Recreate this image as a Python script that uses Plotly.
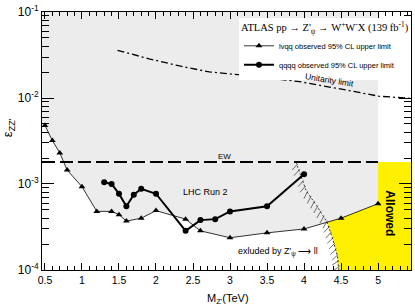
import numpy as np
import plotly.graph_objects as go

# ---------------- data ----------------
lvqq_mass = [0.5, 0.6, 0.7, 0.8, 1.0, 1.2, 1.4, 1.5, 1.6, 1.8, 2.0, 2.4, 2.6, 3.0, 3.5, 4.0, 4.5, 5.0]
lvqq_eps = [4.8e-3, 3.2e-3, 2.3e-3, 1.45e-3, 9.3e-4, 4.8e-4, 4.8e-4, 4.4e-4, 3.7e-4, 4.0e-4,
            4.9e-4, 3.9e-4, 2.85e-4, 2.37e-4, 2.7e-4, 3.0e-4, 4.0e-4, 5.9e-4]

qqqq_mass = [1.3, 1.4, 1.5, 1.6, 1.7, 1.8, 2.0, 2.4, 2.6, 2.8, 3.0, 3.5, 4.0]
qqqq_eps = [1.05e-3, 1.0e-3, 7.7e-4, 5.5e-4, 7.5e-4, 8.8e-4, 7.7e-4, 2.85e-4, 3.8e-4, 3.9e-4,
            4.8e-4, 5.5e-4, 1.3e-3]

unit_mass = [1.48, 1.92, 2.32, 2.72, 3.26, 3.94, 4.61, 5.01, 5.45]
unit_eps = [3.59e-2, 2.84e-2, 2.36e-2, 2.01e-2, 1.82e-2, 1.55e-2, 1.22e-2, 1.05e-2, 9.9e-3]

ew_level = 1.8e-3
ew_mass = [0.46, 5.0]

ll_mass = [3.89, 4.03, 4.17, 4.31, 4.38, 4.45, 4.47]
ll_eps = [1.8e-3, 8.3e-4, 5.6e-4, 3.6e-4, 2.4e-4, 1.45e-4, 1.0e-4]
ll_cross = 3  # index where the ll boundary meets the lvqq limit

x_range = [0.46, 5.445]
y_range_log = [-4.0005, -0.9995]
x_ticks = [0.5, 1, 1.5, 2, 2.5, 3, 3.5, 4, 4.5, 5]
x_ticklabels = ["0.5", "1", "1.5", "2", "2.5", "3", "3.5", "4", "4.5", "5"]
y_ticks = [1e-4, 1e-3, 1e-2, 1e-1]
y_ticklabels = ["10<sup>-4</sup>", "10<sup>-3</sup>", "10<sup>-2</sup>", "10<sup>-1</sup>"]

# ---------------- figure ----------------
W, H = 415, 308
ml, mr, mt, mb = 42, 3, 6, 38
pw, ph = W - ml - mr, H - mt - mb
px_per_x = pw / (x_range[1] - x_range[0])
px_per_dec = ph / (y_range_log[1] - y_range_log[0])

ymax = 10 ** y_range_log[1]
ymin = 10 ** y_range_log[0]

fig = go.Figure()

# grey excluded region (above lvqq limit, up to top, until 5 TeV)
gx = [x_range[0]] + lvqq_mass + [lvqq_mass[-1], x_range[0]]
gy = [lvqq_eps[0]] + lvqq_eps + [ymax, ymax]
fig.add_trace(go.Scatter(x=gx, y=gy, fill="toself", fillcolor="#ececec",
                         line=dict(width=0), mode="lines", showlegend=False, hoverinfo="skip"))

# yellow allowed region
yx = ll_mass[ll_cross:] + [x_range[1], x_range[1], lvqq_mass[-1], lvqq_mass[-1], lvqq_mass[-2], ll_mass[ll_cross]]
yy = ll_eps[ll_cross:] + [ymin, ew_level, ew_level, lvqq_eps[-1], lvqq_eps[-2], ll_eps[ll_cross]]
fig.add_trace(go.Scatter(x=yx, y=yy, fill="toself", fillcolor="#fff000",
                         line=dict(width=0), mode="lines", showlegend=False, hoverinfo="skip"))

# EW line
fig.add_trace(go.Scatter(x=ew_mass, y=[ew_level, ew_level], mode="lines",
                         line=dict(color="black", width=2, dash="13px,5px"),
                         showlegend=False, hoverinfo="skip"))

# unitarity limit
fig.add_trace(go.Scatter(x=unit_mass, y=unit_eps, mode="lines",
                         line=dict(color="black", width=1.3, dash="7px,3px,2px,3px"),
                         showlegend=False, hoverinfo="skip"))

# Z' -> ll exclusion boundary with hatching (hatches on the excluded, low-mass side)
fig.add_trace(go.Scatter(x=ll_mass, y=ll_eps, mode="lines",
                         line=dict(color="#333333", width=1, dash="2px,2px"),
                         showlegend=False, hoverinfo="skip"))
PX = np.array(ll_mass) * px_per_x
PY = -np.log10(np.array(ll_eps)) * px_per_dec
seg = np.hypot(np.diff(PX), np.diff(PY))
s = np.concatenate([[0], np.cumsum(seg)])
ss = np.arange(3, s[-1], 6.0)
hx = np.interp(ss, s, PX)
hy = np.interp(ss, s, PY)
idx = np.clip(np.searchsorted(s, ss) - 1, 0, len(seg) - 1)
tx = np.diff(PX)[idx] / seg[idx]
ty = np.diff(PY)[idx] / seg[idx]
nx, ny = -ty, tx  # left-hand normal in screen coords (y down)
rot = -0.5
nx, ny = nx * np.cos(rot) - ny * np.sin(rot), nx * np.sin(rot) + ny * np.cos(rot)
hl = 6
cx = (hx + nx * hl / 2) / px_per_x
cy = 10 ** (-(hy + ny * hl / 2) / px_per_dec)
ang = np.degrees(np.arctan2(ny, nx))
fig.add_trace(go.Scatter(x=cx, y=cy, mode="markers",
                         marker=dict(symbol="line-ew", size=hl, angle=ang,
                                     line=dict(color="#333333", width=0.7)),
                         showlegend=False, hoverinfo="skip"))

# limits
fig.add_trace(go.Scatter(x=lvqq_mass, y=lvqq_eps, mode="lines+markers",
                         name="lvqq observed 95% CL upper limit",
                         line=dict(color="black", width=0.8),
                         marker=dict(symbol="triangle-up", size=6, color="black"),
                         hoverinfo="skip"))
fig.add_trace(go.Scatter(x=qqqq_mass, y=qqqq_eps, mode="lines+markers",
                         name="qqqq observed 95% CL upper limit",
                         line=dict(color="black", width=2),
                         marker=dict(symbol="circle", size=6, color="black"),
                         hoverinfo="skip"))

minor_y = [m * 10 ** e for e in range(-4, -1) for m in range(2, 10)]

fig.update_layout(
    width=W, height=H,
    margin=dict(l=ml, r=mr, t=mt, b=mb),
    paper_bgcolor="white", plot_bgcolor="white",
    font=dict(family="Liberation Sans", color="black"),
    showlegend=True,
    legend=dict(
        x=1.0, xanchor="right", y=0.978, yanchor="top",
        bgcolor="white", borderwidth=0,
        font=dict(family="Liberation Sans", size=7.5),
        title=dict(text="ATLAS pp → Z'<sub>ψ</sub> → W<sup>+</sup>W<sup>-</sup>X (139 fb<sup>-1</sup>)",
                   font=dict(family="Liberation Serif", size=10.5), side="top"),
        itemwidth=30, tracegroupgap=0,
    ),
    xaxis=dict(range=x_range, tickvals=x_ticks, ticktext=x_ticklabels,
               ticks="inside", ticklen=7, tickwidth=1, tickcolor="black",
               minor=dict(dtick=0.1, tick0=0.5, ticks="inside", ticklen=4, tickcolor="black"),
               showline=True, linecolor="black", linewidth=1, mirror="ticks",
               showgrid=False, zeroline=False, layer="above traces",
               tickfont=dict(size=10.5)),
    yaxis=dict(type="log", range=y_range_log, tickvals=y_ticks, ticktext=y_ticklabels,
               ticks="inside", ticklen=12, tickwidth=1, tickcolor="black",
               minor=dict(tickvals=minor_y, ticks="inside", ticklen=7, tickcolor="black"),
               showline=True, linecolor="black", linewidth=1, mirror="ticks",
               showgrid=False, zeroline=False, layer="above traces",
               ticklabeloverflow="allow",
               tickfont=dict(size=12)),
    annotations=[
        dict(text="EW", x=2.93, y=-2.676, xref="x", yref="y", showarrow=False,
             font=dict(size=8)),
        dict(text="LHC Run 2", x=2.67, y=-3.098, xref="x", yref="y", showarrow=False,
             font=dict(size=9)),
        dict(text="exluded by Z'<sub>ψ</sub> ⟶ ll", x=3.65, y=-3.794, xref="x", yref="y",
             showarrow=False, font=dict(size=9)),
        dict(text="Unitarity limit", x=4.35, y=-1.785, xref="x", yref="y", showarrow=False,
             textangle=9, font=dict(size=8.5)),
        dict(text="<b>Allowed</b>", x=5.16, y=-3.34, xref="x", yref="y", showarrow=False,
             textangle=90, font=dict(size=12)),
        dict(text="M<sub>Z'</sub>(TeV)", x=0.503, y=-0.113, xref="paper", yref="paper",
             xanchor="center", yanchor="middle",
             showarrow=False, font=dict(size=11)),
        dict(text="ε<sub>ZZ'</sub>", x=-0.092, y=0.55, xref="paper", yref="paper",
             xanchor="center", yanchor="middle",
             showarrow=False, textangle=-90, font=dict(size=13)),
    ],
)

fig.write_html("out.html", config={"displayModeBar": False},
               post_script="document.body.style.margin='0';document.body.style.padding='0';")
